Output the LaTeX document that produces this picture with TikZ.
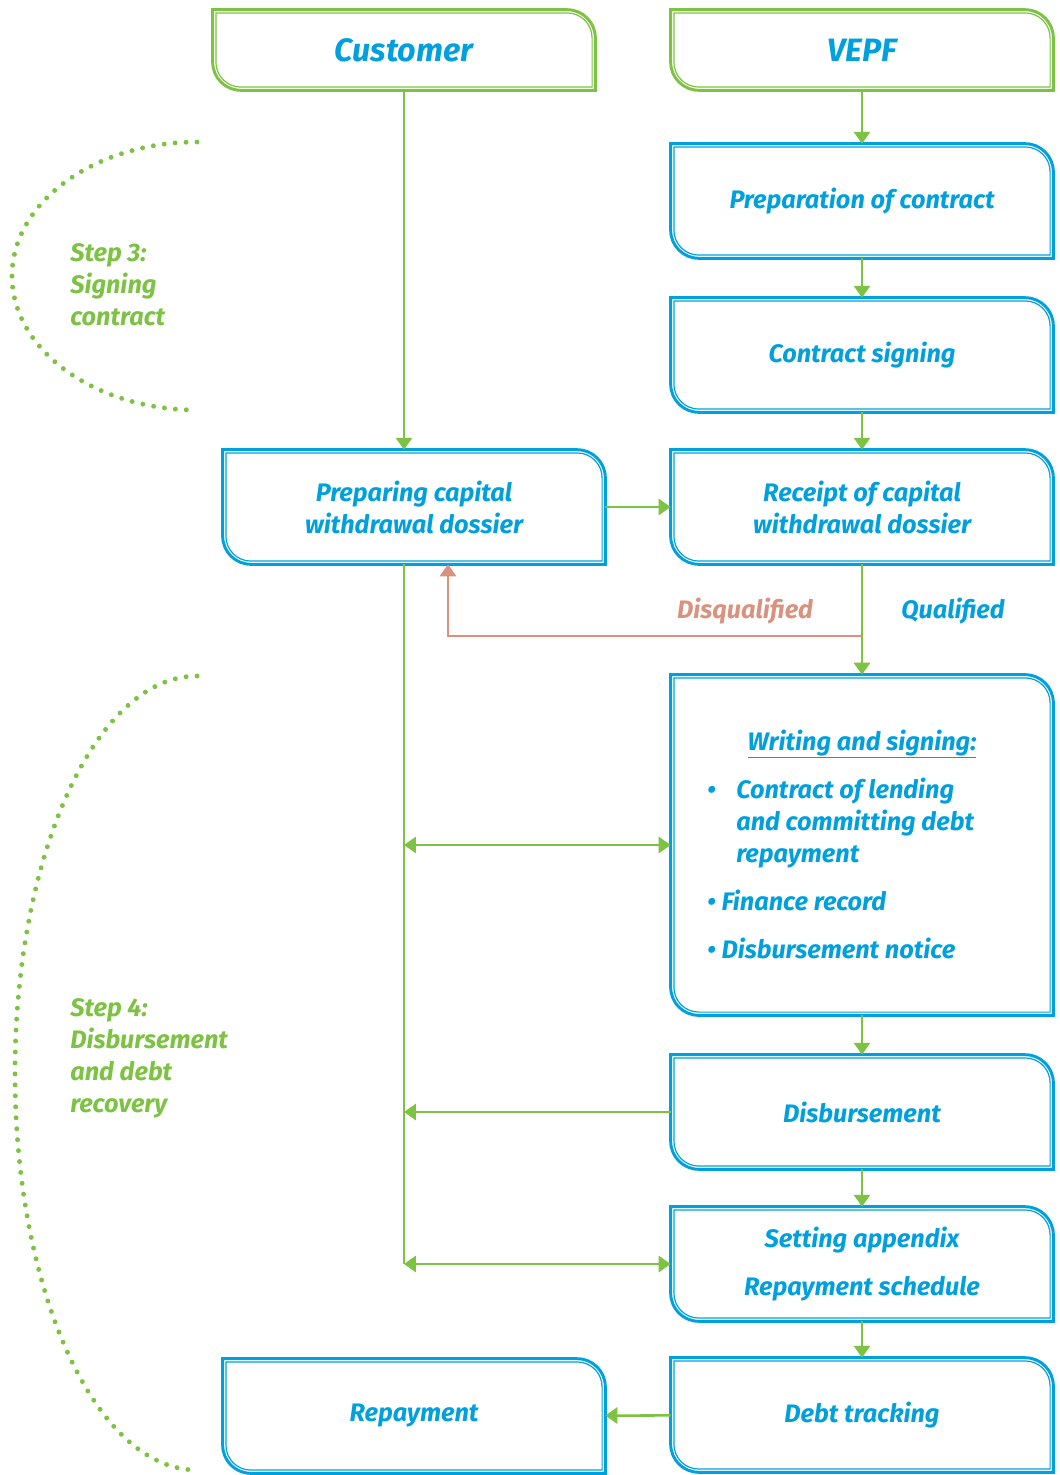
\documentclass[tikz,border=0pt]{standalone}
\usepackage{fontspec}
\setmainfont{Fira Sans}
\usepackage{tikz}
\usetikzlibrary{arrows.meta,positioning,calc}

\definecolor{vblue}{RGB}{0,160,222}
\definecolor{vgreen}{RGB}{125,194,66}
\definecolor{vsalmon}{RGB}{218,145,125}

\newcommand{\boxfont}{\fontsize{18}{22.7}\selectfont\bfseries\itshape}
\newcommand{\headfont}{\fontsize{23}{27}\selectfont\bfseries\itshape}

% one line of a frame with two rounded corners (top right, bottom left)
% #1 node, #2 colour, #3 inset, #4 line width
\newcommand{\framepath}[4]{%
  \draw[#2, line width=#4]
    ([xshift=#3, yshift=-#3]#1.north west) -- ([xshift=-20pt, yshift=-#3]#1.north east)
    arc[start angle=90, end angle=0, radius=20pt-#3] -- ([xshift=-#3, yshift=#3]#1.south east)
    -- ([xshift=20pt, yshift=#3]#1.south west)
    arc[start angle=270, end angle=180, radius=20pt-#3] -- cycle;}
% thick outer line, thin inner line
\newcommand{\cornerbox}[2]{%
  \framepath{#1}{#2}{0pt}{2.1pt}
  \framepath{#1}{#2}{2.3pt}{0.85pt}}

\tikzset{
  box/.style={minimum width=9.55cm, minimum height=2.85cm, inner sep=0pt,
    align=center, text=vblue, font=\boxfont},
  headbox/.style={box, minimum height=2cm, font=\headfont},
  txt/.style={inner sep=0pt, text=vblue, font=\boxfont},
  steptext/.style={inner sep=0pt, align=left, text=vgreen, font=\boxfont},
  tip/.style={Triangle[length=8.5pt,width=11.5pt]},
  flow/.style={line width=1.8pt, vgreen, -{Triangle[length=8.5pt,width=11.5pt]}},
  twoway/.style={flow, {Triangle[length=8.5pt,width=11.5pt]}-{Triangle[length=8.5pt,width=11.5pt]}},
  back/.style={flow, vsalmon},
  dots/.style={vgreen, line width=3.5pt, line cap=round, dash pattern=on 0pt off 7.8pt}
}

\begin{document}
\begin{tikzpicture}[x=0.025cm, y=-0.025cm]
  \useasboundingbox (0,0) rectangle (1060,1475);

  % Heads
  \node[headbox] (cust) at (404,50) {Customer};
  \node[headbox] (vepf) at (862,50) {VEPF};
  \cornerbox{cust}{vgreen}
  \cornerbox{vepf}{vgreen}

  % VEPF column
  \node[box] (prep) at (862,201) {Preparation of contract};
  \node[box] (sign) at (862,355) {Contract signing};
  \node[box] (recv) at (862,507) {Receipt of capital\\withdrawal dossier};
  \node[box, minimum height=8.5cm] (write) at (862,845) {};
  \node[box] (disb) at (862,1112) {Disbursement};
  \node[box] (sched) at (862,1264) {Setting appendix\\[0.4cm]Repayment schedule};
  \node[box] (debt) at (862,1415) {Debt tracking};

  % Customer column
  \node[box] (doss) at (414,507) {Preparing capital\\withdrawal dossier};
  \node[box] (repay) at (414,1416) {Repayment};

  \foreach \n in {prep,sign,recv,write,disb,sched,debt,doss,repay}
    {\cornerbox{\n}{vblue}}

  % Writing box content
  \node[txt, anchor=base] (wtitle) at (862,750) {\underline{Writing and signing:}};
  \node[txt, anchor=base west] (bul) at (707,798) {\textbullet};
  \node[txt, anchor=base west] (lend1) at (736,798) {Contract of lending};
  \node[txt, anchor=base west] (lend2) at (736,830) {and committing debt};
  \node[txt, anchor=base west] (lend3) at (736,862) {repayment};
  \node[txt, anchor=base west] (fin) at (707,910) {\textbullet\ Finance record};
  \node[txt, anchor=base west] (notice) at (707,958) {\textbullet\ Disbursement notice};

  % Steps
  \node[steptext, anchor=west] (step3) at (70,285) {Step 3:\\Signing\\contract};
  \node[steptext, anchor=west] (step4) at (70,1058) {Step 4:\\Disbursement\\and debt\\recovery};
  \draw[dots] (197,142) .. controls (95,142) and (12,202) .. (12,276)
    .. controls (12,350) and (95,410) .. (197,410);
  \draw[dots] (197,676) .. controls (96,676) and (15,854) .. (15,1073)
    .. controls (15,1292) and (96,1470) .. (197,1470);

  % Connectors
  \draw[flow] (vepf) -- (prep);
  \draw[flow] (prep) -- (sign);
  \draw[flow] (sign) -- (recv);
  \draw[flow] (cust.south) -- (cust.south |- doss.north);
  \draw[flow] (doss) -- (recv);
  \draw[flow] (recv) -- (write);
  \draw[flow] (write) -- (disb);
  \draw[flow] (disb) -- (sched);
  \draw[flow] (sched) -- (debt);
  \draw[flow] (debt) -- (repay);

  \coordinate (top) at (cust.south |- doss.south);
  \coordinate (bend) at (448,636);
  \draw[line width=1.8pt, vgreen] (top) -- (top |- sched);
  \draw[twoway] (top |- write) -- (write.west);
  \draw[flow] (disb.west) -- (top |- disb);
  \draw[twoway] (top |- sched) -- (sched.west);

  \draw[back] (recv.south |- bend) -- (bend) -- (bend |- doss.south);
  \node[txt, text=vsalmon] (disq) at (745,611) {Disqualified};
  \node[txt] (qual) at (953,611) {Qualified};
\end{tikzpicture}
\end{document}
